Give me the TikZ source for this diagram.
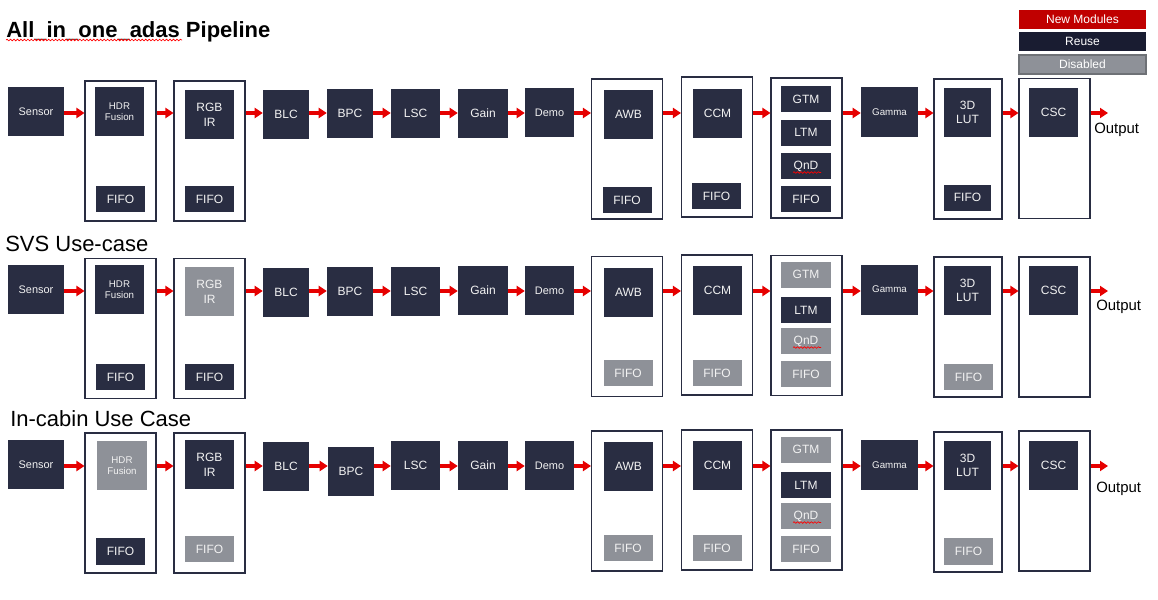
\documentclass[tikz,border=0pt]{standalone}
\usepackage{fontspec}
\setmainfont{Liberation Sans}
\usetikzlibrary{arrows.meta,positioning,decorations.pathmorphing}
\definecolor{ispnavy}{HTML}{292D42}
\definecolor{ispdeep}{HTML}{191C31}
\definecolor{ispgray}{HTML}{8E9198}
\definecolor{ispedge}{HTML}{6E7176}
\definecolor{ispred}{HTML}{E60000}
\definecolor{ispnew}{HTML}{C00000}
\definecolor{isptext}{HTML}{F2F2F2}
\newcommand{\fntbox}{\fontsize{9}{11}\selectfont}
\newcommand{\fntmid}{\fontsize{8.2}{9.5}\selectfont}
\newcommand{\fntsmall}{\fontsize{7.3}{8.3}\selectfont}
\newcommand{\fnttitle}{\fontsize{16.5}{19}\selectfont}
\tikzstyle{modbox}=[fill=ispnavy,text=isptext,minimum width=36.75pt,minimum height=36.75pt,
  inner sep=1pt,align=center,font=\fntbox]
\tikzstyle{fifobox}=[modbox,minimum height=19.5pt]
\tikzstyle{tmbox}=[modbox,minimum width=37.5pt,minimum height=19.5pt]
\tikzstyle{offbox}=[fill=ispgray]
\tikzstyle{stage}=[draw=ispnavy,line width=0.8pt,minimum width=53.25pt,minimum height=105pt,inner sep=0pt]
\tikzstyle{flow}=[draw=ispred,line width=2.5pt,-{Triangle[length=6pt,width=7.5pt]}]
\tikzstyle{legbox}=[text=white,minimum width=95.25pt,minimum height=14.25pt,inner sep=0pt,font=\fntbox]
\tikzstyle{rowtitle}=[anchor=base west,inner sep=0pt,font=\fnttitle]
\tikzstyle{outtext}=[anchor=base west,inner sep=0pt,font=\fontsize{11.2}{13}\selectfont]
\tikzstyle{squig}=[draw=red,line width=0.5pt,decorate,decoration={snake,amplitude=0.6pt,segment length=2.6pt}]

\begin{document}
\begin{tikzpicture}[x=0.75pt,y=-0.75pt]
  \useasboundingbox[fill=white] (0,0) rectangle (1158,600);

  % legend
  \node[legbox,fill=ispnew] (lnew) at (1082.5,19.5) {New Modules};
  \node[legbox,fill=ispdeep] (lreuse) at (1082.5,41.5) {Reuse};
  \node[legbox,fill=ispgray,draw=ispedge,line width=0.8pt] (loff) at (1082.5,64.5) {Disabled};

  % row 1: all_in_one_adas
  \node[rowtitle,font=\fnttitle\bfseries] (title1) at (6,37) {All\_in\_one\_adas Pipeline};
  \draw[squig] (6,40) -- (182,40);
  \coordinate (r1) at (0,113);
  \node[modbox,minimum width=42pt,font=\fntmid] (sensor1) at (36,111.5) {Sensor};
  \node[stage] (hdrC1) at (120.5,151) {};
  \node[modbox,font=\fntsmall] (hdr1) at (119.5,111.5) {HDR\\Fusion};
  \node[fifobox] (hdrF1) at (120.5,199) {FIFO};
  \node[stage] (rgbC1) at (209.5,151) {};
  \node[modbox] (rgb1) at (209.5,114.5) {RGB\\IR};
  \node[fifobox] (rgbF1) at (209.5,199) {FIFO};
  \foreach \nm/\lbl/\x/\y/\w in {blc1/BLC/286/114.5/34.5pt,bpc1/BPC/350/113.5/34.5pt,
    lsc1/LSC/415.5/113.5/36.75pt,gain1/Gain/483/113.5/37.5pt}
    \node[modbox,minimum width=\w] (\nm) at (\x,\y) {\lbl};
  \node[modbox,font=\fntmid] (demo1) at (549.5,112.5) {Demo};
  \node[stage] (awbC1) at (627,149) {};
  \node[modbox] (awb1) at (628.5,114.5) {AWB};
  \node[fifobox] (awbF1) at (627,200) {FIFO};
  \node[stage] (ccmC1) at (717,147) {};
  \node[modbox] (ccm1) at (717.5,113.5) {CCM};
  \node[fifobox] (ccmF1) at (716.5,196) {FIFO};
  \node[stage] (tmC1) at (806.5,148) {};
  \node[tmbox] (gtm1) at (806,99) {GTM};
  \node[tmbox] (ltm1) at (806,132.5) {LTM};
  \node[tmbox] (qnd1) at (806,166) {QnD};
  \node[tmbox] (tmF1) at (806,199) {FIFO};
  \node[modbox,minimum width=42.75pt,minimum height=37.5pt,font=\fntsmall] (gamma1) at (889.5,112) {Gamma};
  \node[stage,minimum width=51pt] (lutC1) at (968,149) {};
  \node[modbox,minimum width=35.25pt] (lut1) at (967.5,112.5) {3D\\LUT};
  \node[fifobox,minimum width=35.25pt] (lutF1) at (967.5,197.5) {FIFO};
  \node[stage] (cscC1) at (1054.5,148.5) {};
  \node[modbox] (csc1) at (1053.5,112.5) {CSC};
  \coordinate (out1) at (1108,113);
  \node[outtext] (otext1) at (1094,133) {Output};

  % row 2: svs
  \node[rowtitle] (title2) at (5,251) {SVS Use-case};
  \coordinate (r2) at (0,291);
  \node[modbox,minimum width=42pt,font=\fntmid] (sensor2) at (36,289.5) {Sensor};
  \node[stage] (hdrC2) at (120.5,328.5) {};
  \node[modbox,font=\fntsmall] (hdr2) at (119.5,289.5) {HDR\\Fusion};
  \node[fifobox] (hdrF2) at (120.5,377) {FIFO};
  \node[stage] (rgbC2) at (209.5,328.5) {};
  \node[modbox,offbox] (rgb2) at (209.5,291.5) {RGB\\IR};
  \node[fifobox] (rgbF2) at (209.5,377) {FIFO};
  \foreach \nm/\lbl/\x/\y/\w in {blc2/BLC/286/292.5/34.5pt,bpc2/BPC/350/291.5/34.5pt,
    lsc2/LSC/415.5/291.5/36.75pt,gain2/Gain/483/290.5/37.5pt}
    \node[modbox,minimum width=\w] (\nm) at (\x,\y) {\lbl};
  \node[modbox,font=\fntmid] (demo2) at (549.5,290.5) {Demo};
  \node[stage] (awbC2) at (627,326.5) {};
  \node[modbox] (awb2) at (628.5,292.5) {AWB};
  \node[fifobox,offbox] (awbF2) at (628,373) {FIFO};
  \node[stage] (ccmC2) at (717,325) {};
  \node[modbox] (ccm2) at (717.5,290.5) {CCM};
  \node[fifobox,offbox] (ccmF2) at (717,373) {FIFO};
  \node[stage] (tmC2) at (806.5,325.5) {};
  \node[tmbox,offbox] (gtm2) at (806,274.5) {GTM};
  \node[tmbox] (ltm2) at (806,310) {LTM};
  \node[tmbox,offbox] (qnd2) at (806,341) {QnD};
  \node[tmbox,offbox] (tmF2) at (806,374) {FIFO};
  \node[modbox,minimum width=42.75pt,minimum height=37.5pt,font=\fntsmall] (gamma2) at (889.5,289.5) {Gamma};
  \node[stage,minimum width=51pt] (lutC2) at (968,327) {};
  \node[modbox,minimum width=35.25pt] (lut2) at (967.5,290.5) {3D\\LUT};
  \node[fifobox,offbox] (lutF2) at (968.5,377) {FIFO};
  \node[stage] (cscC2) at (1054.5,327) {};
  \node[modbox] (csc2) at (1053.5,290.5) {CSC};
  \coordinate (out2) at (1108,291);
  \node[outtext] (otext2) at (1096,310) {Output};

  % row 3: in-cabin
  \node[rowtitle] (title3) at (10,426) {In-cabin Use Case};
  \coordinate (r3) at (0,466);
  \node[modbox,minimum width=42pt,font=\fntmid] (sensor3) at (36,464.5) {Sensor};
  \node[stage] (hdrC3) at (120.5,503) {};
  \node[modbox,offbox,minimum width=37.5pt,font=\fntsmall] (hdr3) at (122,465.5) {HDR\\Fusion};
  \node[fifobox,minimum height=20.25pt] (hdrF3) at (120.5,551.5) {FIFO};
  \node[stage] (rgbC3) at (209.5,503) {};
  \node[modbox] (rgb3) at (209.5,464.5) {RGB\\IR};
  \node[fifobox,offbox] (rgbF3) at (209.5,549) {FIFO};
  \foreach \nm/\lbl/\x/\y/\w in {blc3/BLC/286/466.5/34.5pt,bpc3/BPC/351/471.5/34.5pt,
    lsc3/LSC/415.5/465.5/36.75pt,gain3/Gain/483/465.5/37.5pt}
    \node[modbox,minimum width=\w] (\nm) at (\x,\y) {\lbl};
  \node[modbox,font=\fntmid] (demo3) at (549.5,465.5) {Demo};
  \node[stage] (awbC3) at (627,501) {};
  \node[modbox] (awb3) at (628.5,466.5) {AWB};
  \node[fifobox,offbox] (awbF3) at (628,548) {FIFO};
  \node[stage] (ccmC3) at (717,500) {};
  \node[modbox] (ccm3) at (717.5,465.5) {CCM};
  \node[fifobox,offbox] (ccmF3) at (717,548) {FIFO};
  \node[stage] (tmC3) at (806.5,500) {};
  \node[tmbox,offbox] (gtm3) at (806,449.5) {GTM};
  \node[tmbox] (ltm3) at (806,485) {LTM};
  \node[tmbox,offbox] (qnd3) at (806,516) {QnD};
  \node[tmbox,offbox] (tmF3) at (806,549) {FIFO};
  \node[modbox,minimum width=42.75pt,minimum height=37.5pt,font=\fntsmall] (gamma3) at (889.5,465) {Gamma};
  \node[stage,minimum width=51pt] (lutC3) at (968,502) {};
  \node[modbox,minimum width=35.25pt] (lut3) at (967.5,465.5) {3D\\LUT};
  \node[fifobox,offbox,minimum height=20.25pt] (lutF3) at (968.5,551.5) {FIFO};
  \node[stage] (cscC3) at (1054.5,501) {};
  \node[modbox] (csc3) at (1053.5,465.5) {CSC};
  \coordinate (out3) at (1108,466);
  \node[outtext] (otext3) at (1096,492) {Output};

  % data flow, same chain in every row
  \foreach \r in {1,2,3} {
    \foreach \a/\b in {sensor/hdrC,hdrC/rgbC,rgbC/blc,blc/bpc,bpc/lsc,lsc/gain,gain/demo,
      demo/awbC,awbC/ccmC,ccmC/tmC,tmC/gamma,gamma/lutC,lutC/cscC}
      \draw[flow] (\a\r.east |- r\r) -- (\b\r.west |- r\r);
    \draw[flow] (cscC\r.east |- r\r) -- (out\r);
    \draw[squig] ([shift={(-13,6.5)}]qnd\r.center) -- ++(28,0);
  }
\end{tikzpicture}
\end{document}
